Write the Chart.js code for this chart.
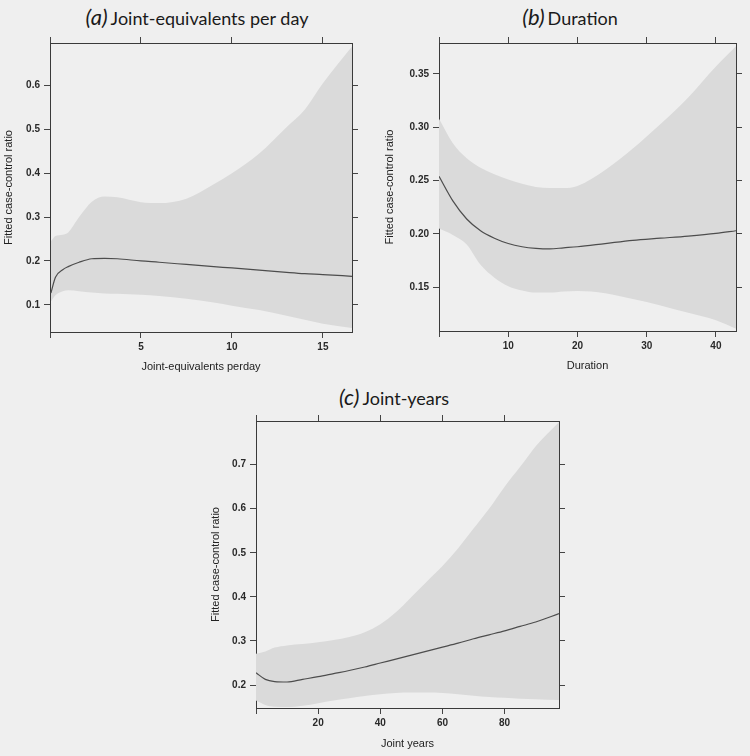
<!DOCTYPE html>
<html lang="en">
<head>
<meta charset="UTF-8">
<title>Fitted case-control ratio</title>
<script src="https://cdn.jsdelivr.net/npm/chart.js"></script>
<style>
  body { margin: 0; background: #efefef; width: 750px; height: 756px; position: relative; overflow: hidden; }
  .panel { position: absolute; }
  .ttl { position: absolute; font-family: Lato, 'Open Sans', sans-serif; font-size: 18px; line-height: 24px;
         color: #1a1a1a; white-space: nowrap; transform: translateX(-50%); }
  .ttl i { font-size: 22px; margin-right: 3px; font-weight: 400; }
</style>
</head>
<body>
<div class="ttl" style="left:197px; top:5px;"><i>(a)</i>Joint-equivalents per day</div>
<div class="ttl" style="left:570px; top:5px;"><i>(b)</i>Duration</div>
<div class="ttl" style="left:394px; top:385px;"><i>(c)</i>Joint-years</div>

<canvas id="chartA" class="panel" width="372" height="346" style="left:0px; top:30px;"></canvas>
<canvas id="chartB" class="panel" width="370" height="346" style="left:380px; top:30px;"></canvas>
<canvas id="chartC" class="panel" width="370" height="371" style="left:205px; top:385px;"></canvas>

<script>
// (a) joint-equivalents per day
const jePerDay   = [0.05, 0.3, 0.7, 1.0, 1.6, 2.3, 3.0, 3.7, 5.0, 6.0, 7.5, 9.0, 10.0, 11.5, 13.0, 14.0, 15.0, 16.6];
const jeFit      = [0.127, 0.163, 0.180, 0.187, 0.197, 0.205, 0.206, 0.205, 0.200, 0.197, 0.192, 0.187, 0.184, 0.179, 0.174, 0.171, 0.169, 0.165];
const jeUpper    = [0.245, 0.257, 0.260, 0.265, 0.300, 0.335, 0.347, 0.345, 0.334, 0.332, 0.342, 0.375, 0.400, 0.445, 0.505, 0.545, 0.605, 0.689];
const jeLower    = [0.108, 0.122, 0.131, 0.133, 0.131, 0.128, 0.126, 0.125, 0.123, 0.120, 0.114, 0.105, 0.098, 0.088, 0.075, 0.066, 0.057, 0.047];
const jeXTicks   = [0, 5, 10, 15];
const jeYTicks   = [0.1, 0.2, 0.3, 0.4, 0.5, 0.6];

// (b) duration
const duration   = [0, 2, 4, 6, 8, 10, 12, 14, 16, 18, 20, 24, 28, 32, 36, 40, 42.9];
const durFit     = [0.254, 0.231, 0.214, 0.203, 0.196, 0.191, 0.188, 0.1865, 0.186, 0.187, 0.188, 0.191, 0.194, 0.196, 0.198, 0.2005, 0.203];
const durUpper   = [0.308, 0.285, 0.271, 0.262, 0.256, 0.251, 0.247, 0.244, 0.243, 0.243, 0.245, 0.260, 0.280, 0.303, 0.328, 0.357, 0.376];
const durLower   = [0.205, 0.199, 0.190, 0.171, 0.159, 0.151, 0.147, 0.145, 0.145, 0.146, 0.1465, 0.1445, 0.139, 0.133, 0.126, 0.119, 0.111];
const durXTicks  = [0, 10, 20, 30, 40];
const durYTicks  = [0.15, 0.20, 0.25, 0.30, 0.35];

// (c) joint-years
const jointYears = [0, 3, 6, 10, 15, 20, 25, 30, 35, 40, 45, 50, 55, 60, 65, 70, 75, 80, 85, 90, 97.5];
const jyFit      = [0.228, 0.213, 0.208, 0.207, 0.213, 0.219, 0.226, 0.233, 0.241, 0.250, 0.259, 0.268, 0.277, 0.286, 0.295, 0.305, 0.314, 0.323, 0.333, 0.343, 0.362];
const jyUpper    = [0.271, 0.276, 0.285, 0.290, 0.293, 0.297, 0.302, 0.309, 0.320, 0.338, 0.365, 0.400, 0.435, 0.470, 0.510, 0.555, 0.600, 0.650, 0.695, 0.742, 0.797];
const jyLower    = [0.165, 0.155, 0.151, 0.150, 0.153, 0.159, 0.165, 0.170, 0.175, 0.179, 0.182, 0.183, 0.183, 0.182, 0.179, 0.176, 0.173, 0.171, 0.169, 0.168, 0.166];
const jyXTicks   = [0, 20, 40, 60, 80];
const jyYTicks   = [0.2, 0.3, 0.4, 0.5, 0.6, 0.7];

const yTitle = 'Fitted case-control ratio';
const axisFont = "'Liberation Sans', Arial, sans-serif";

function pts(xs, ys) {
    return xs.map((x, i) => ({ x: x, y: ys[i] }));
}

function makePanel(id, xs, fit, upper, lower, opt) {
    const tickGrid = { drawOnChartArea: false, drawTicks: true, tickLength: 6, color: '#444', tickColor: '#444' };
    const border = { display: true, color: '#3a3a3a', width: 1 };
    const xLabel = v => (v === 0 ? '' : String(v));
    const yLabel = v => v.toFixed(opt.yDigits);
    const fixTicks = vals => (scale => { scale.ticks = vals.map(v => ({ value: v })); });
    const tickFont = { family: axisFont, size: 10, weight: 'bold' };

    // dataset 0 is painted last, so the fitted line goes first to sit on top of the band
    new Chart(document.getElementById(id), {
        type: 'line',
        data: {
            datasets: [
                { data: pts(xs, fit), borderColor: '#4d4d4d', borderWidth: 1.2, pointRadius: 0, fill: false, cubicInterpolationMode: 'monotone' },
                { data: pts(xs, upper), borderWidth: 0, pointRadius: 0, fill: false, cubicInterpolationMode: 'monotone' },
                { data: pts(xs, lower), borderWidth: 0, pointRadius: 0, fill: '-1', backgroundColor: '#dadada', cubicInterpolationMode: 'monotone' }
            ]
        },
        options: {
            responsive: false,
            animation: false,
            events: [],
            layout: { padding: 0 },
            plugins: { legend: { display: false }, tooltip: { enabled: false } },
            scales: {
                x: {
                    type: 'linear', position: 'bottom', min: opt.xMin, max: opt.xMax,
                    afterBuildTicks: fixTicks(opt.xTicks),
                    afterFit: s => { s.height = opt.bottom; },
                    grid: tickGrid, border: border,
                    ticks: { callback: xLabel, color: '#2a2a2a', padding: 3, maxRotation: 0, font: tickFont },
                    title: { display: true, text: opt.xTitle, color: '#222', padding: { top: 0, bottom: opt.xTitlePad },
                             font: { family: axisFont, size: 11, lineHeight: 1.2 } }
                },
                x2: {
                    type: 'linear', position: 'top', min: opt.xMin, max: opt.xMax,
                    afterBuildTicks: fixTicks(opt.xTicks),
                    afterFit: s => { s.height = opt.top; },
                    grid: tickGrid, border: border,
                    ticks: { callback: () => '', padding: 0 }
                },
                y: {
                    type: 'linear', position: 'left', min: opt.yMin, max: opt.yMax,
                    afterBuildTicks: fixTicks(opt.yTicks),
                    afterFit: s => { s.width = opt.left; },
                    grid: tickGrid, border: border,
                    ticks: { callback: yLabel, color: '#2a2a2a', padding: 4, font: tickFont },
                    title: { display: true, text: yTitle, color: '#222', padding: { top: opt.yTitlePad, bottom: 0 },
                             font: { family: axisFont, size: 11, lineHeight: 1.2 } }
                },
                y2: {
                    type: 'linear', position: 'right', min: opt.yMin, max: opt.yMax,
                    afterBuildTicks: fixTicks(opt.yTicks),
                    afterFit: s => { s.width = opt.right; },
                    grid: tickGrid, border: border,
                    ticks: { callback: () => '', padding: 0 }
                }
            }
        }
    });
}

makePanel('chartA', jePerDay, jeFit, jeUpper, jeLower, {
    xMin: 0, xMax: 16.6, yMin: 0.038, yMax: 0.697, xTicks: jeXTicks, yTicks: jeYTicks, yDigits: 1,
    xTitle: 'Joint-equivalents perday', left: 50, right: 20, top: 13, bottom: 44, xTitlePad: 2.4, yTitlePad: 2.4
});

makePanel('chartB', duration, durFit, durUpper, durLower, {
    xMin: 0, xMax: 42.9, yMin: 0.109, yMax: 0.379, xTicks: durXTicks, yTicks: durYTicks, yDigits: 2,
    xTitle: 'Duration', left: 59, right: 14, top: 13, bottom: 45, xTitlePad: 3.4, yTitlePad: 3.4
});

makePanel('chartC', jointYears, jyFit, jyUpper, jyLower, {
    xMin: 0, xMax: 97.5, yMin: 0.148, yMax: 0.799, xTicks: jyXTicks, yTicks: jyYTicks, yDigits: 1,
    xTitle: 'Joint years', left: 51, right: 16, top: 36, bottom: 48, xTitlePad: 5.4, yTitlePad: 4.1
});
</script>
</body>
</html>
